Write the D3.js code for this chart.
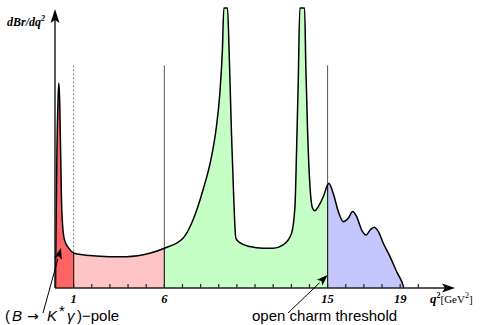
<!DOCTYPE html>
<html>
<head>
<meta charset="utf-8">
<script src="https://cdn.jsdelivr.net/npm/d3@7"></script>
<style>
  body { margin: 0; background: #fff; }
  svg { display: block; }
</style>
</head>
<body>
<div id="chart"></div>
<script>
// q^2 positions and dBr/dq^2 (arbitrary units, 100 = clipped top)
var qValues = [0, 0.03, 0.08, 0.14, 0.18, 0.23, 0.28, 0.33, 0.39, 0.5, 0.77, 1,
  1.88, 2.98, 3.92, 5.19, 6,
  7.03, 7.58, 8.13, 8.6, 8.87, 9.06, 9.2, 9.28, 9.48, 9.57, 9.7, 9.83, 9.94, 10.16, 10.71,
  11.45, 12, 12.55, 13.01, 13.2, 13.29, 13.38, 13.47, 13.73, 13.8, 13.9, 14.03, 14.17,
  14.3, 14.48, 14.76, 15,
  15.07, 15.31, 15.59, 15.86, 16.14, 16.38, 16.6, 16.88, 17.12, 17.34, 17.56, 17.8,
  18.07, 18.44, 18.81, 19.18, 19.2];
var rateValues = [0, 20.7, 49.3, 67.1, 73.2, 67.1, 49.3, 31.4, 22.5, 17.1, 13.9, 12.5,
  11.6, 11.2, 11.2, 12.4, 14.2,
  17.8, 24.3, 35, 46.9, 57.6, 69.5, 85, 100, 100, 85, 55.4, 31.4, 17.8, 16.2, 14.8,
  14.2, 14.2, 15.4, 19.5, 29, 49.3, 73.1, 100, 100, 79, 55.4, 36.2, 28.5,
  27.6, 29, 32.6, 36.8,
  37.4, 33.8, 27.3, 23.7, 24.9, 27.3, 25.5, 20.7, 18.9, 20.7, 21.7, 20.1,
  16, 11.2, 5.8, 0.5, 0];

var regionBounds = [[0, 1], [1, 6], [6, 15], [15, 19.2]];
var regionColors = ["#ff6464", "#ffc4c4", "#c6ffc6", "#c6c6ff"];
var tickValues = d3.range(1, 21);
var tickLabels = [1, 6, 15, 19];
var cutLines = [1, 6, 15];

var width = 480, height = 325;

var svg = d3.select("#chart").append("svg")
  .attr("width", width)
  .attr("height", height);

var x = d3.scaleLinear().domain([0, 20]).range([55.5, 418.3]);
var y = d3.scaleLinear().domain([0, 100]).range([288, 8]);

var points = qValues.map(function(q, i) { return { q: q, v: rateValues[i] }; });

var area = d3.area()
  .curve(d3.curveMonotoneX)
  .x(function(d) { return x(d.q); })
  .y0(y(0))
  .y1(function(d) { return y(d.v); });

var line = d3.line()
  .curve(d3.curveMonotoneX)
  .x(function(d) { return x(d.q); })
  .y(function(d) { return y(d.v); });

regionBounds.forEach(function(b, i) {
  var seg = points.filter(function(d) { return d.q >= b[0] && d.q <= b[1]; });
  svg.append("path")
    .attr("d", area(seg))
    .attr("fill", regionColors[i]);
});

// boundary lines
function valueAt(q) {
  var i = qValues.indexOf(q);
  return rateValues[i];
}

cutLines.forEach(function(q) {
  svg.append("line")
    .attr("x1", x(q)).attr("x2", x(q))
    .attr("y1", y(79.5)).attr("y2", y(valueAt(q)))
    .attr("stroke", "#555")
    .attr("stroke-width", q === 1 ? 0.8 : 1)
    .attr("stroke-dasharray", q === 1 ? "2,2" : null);
  svg.append("line")
    .attr("x1", x(q)).attr("x2", x(q))
    .attr("y1", y(valueAt(q))).attr("y2", y(0))
    .attr("stroke", "#222")
    .attr("stroke-width", 1.2);
});

svg.append("path")
  .attr("d", line(points))
  .attr("fill", "none")
  .attr("stroke", "#000")
  .attr("stroke-width", 1.5)
  .attr("stroke-linejoin", "round");

// axes
var axisColor = "#222";
svg.append("line")
  .attr("x1", x(0) - 0.5).attr("x2", 446)
  .attr("y1", y(0)).attr("y2", y(0))
  .attr("stroke", axisColor).attr("stroke-width", 1.5);
svg.append("line")
  .attr("x1", x(0) - 0.5).attr("x2", x(0) - 0.5)
  .attr("y1", y(0)).attr("y2", 18)
  .attr("stroke", axisColor).attr("stroke-width", 1.5);

svg.append("path")
  .attr("d", "M455," + y(0) + " L442," + (y(0) - 4.5) + " L445," + y(0) + " L442," + (y(0) + 4.5) + " Z")
  .attr("fill", "#000");
svg.append("path")
  .attr("d", "M" + (x(0) - 0.5) + ",9 L" + (x(0) - 5) + ",23 L" + (x(0) - 0.5) + ",20 L" + (x(0) + 4) + ",23 Z")
  .attr("fill", "#000");

svg.selectAll(".tick")
  .data(tickValues)
  .enter().append("line")
  .attr("class", "tick")
  .attr("x1", function(d) { return x(d); })
  .attr("x2", function(d) { return x(d); })
  .attr("y1", y(0))
  .attr("y2", y(0) - 4)
  .attr("stroke", axisColor)
  .attr("stroke-width", 1.2);

svg.selectAll(".tlabel")
  .data(tickLabels)
  .enter().append("text")
  .attr("class", "tlabel")
  .attr("x", function(d) { return x(d); })
  .attr("y", 303)
  .attr("text-anchor", "middle")
  .style("font-family", "'Liberation Serif', 'DejaVu Serif', serif")
  .style("font-weight", "bold")
  .style("font-style", "italic")
  .style("font-size", "12.5px")
  .text(function(d) { return d; });

// axis titles
var xt = svg.append("text")
  .attr("x", 430).attr("y", 303)
  .style("font-family", "'Liberation Serif', serif")
  .style("font-size", "12px");
xt.append("tspan").style("font-weight", "bold").style("font-style", "italic").style("font-size", "13px").text("q");
xt.append("tspan").attr("dy", -5).style("font-size", "8px").style("font-weight", "bold").text("2");
xt.append("tspan").attr("dy", 5).style("font-size", "11px").text("[GeV");
xt.append("tspan").attr("dy", -5).style("font-size", "8px").text("2");
xt.append("tspan").attr("dy", 5).style("font-size", "11px").text("]");

var yt = svg.append("text")
  .attr("x", 7).attr("y", 26)
  .style("font-family", "'Liberation Serif', serif")
  .style("font-weight", "bold")
  .style("font-style", "italic")
  .style("font-size", "12px");
yt.append("tspan").text("dBr/dq");
yt.append("tspan").attr("dy", -5).style("font-size", "8px").text("2");

// annotations
function arrow(x1, y1, x2, y2) {
  var ang = Math.atan2(y2 - y1, x2 - x1);
  var len = 11, w = 4;
  var bx = x2 - len * Math.cos(ang), by = y2 - len * Math.sin(ang);
  svg.append("line")
    .attr("x1", x1).attr("y1", y1).attr("x2", bx).attr("y2", by)
    .attr("stroke", "#000").attr("stroke-width", 1);
  var px = -Math.sin(ang) * w, py = Math.cos(ang) * w;
  svg.append("path")
    .attr("d", "M" + x2 + "," + y2 + " L" + (bx + px) + "," + (by + py) + " L" + (bx + 2.5 * Math.cos(ang)) + "," + (by + 2.5 * Math.sin(ang)) + " L" + (bx - px) + "," + (by - py) + " Z")
    .attr("fill", "#000");
}
arrow(43, 313, x(0.3), y(14.3));
arrow(288, 313, x(15), y(4.6));

var t1 = svg.append("text")
  .attr("y", 321)
  .style("font-family", "'Liberation Sans', Arial, sans-serif")
  .style("font-size", "15px");
t1.append("tspan").attr("x", 5).text("(");
t1.append("tspan").attr("x", 12).style("font-style", "italic").text("B");
t1.append("tspan").attr("x", 27).style("font-family", "'DejaVu Sans', sans-serif").style("font-size", "14px").text("\u2192");
t1.append("tspan").attr("x", 47).style("font-style", "italic").text("K");
t1.append("tspan").attr("x", 59).attr("dy", -5).text("*");
t1.append("tspan").attr("x", 67).attr("dy", 5).style("font-style", "italic").text("\u03b3");
t1.append("tspan").attr("x", 77).text(")\u2212pole");

svg.append("text")
  .attr("x", 252).attr("y", 321)
  .style("font-family", "'Liberation Sans', Arial, sans-serif")
  .style("font-size", "15px")
  .text("open charm threshold");
</script>
</body>
</html>
